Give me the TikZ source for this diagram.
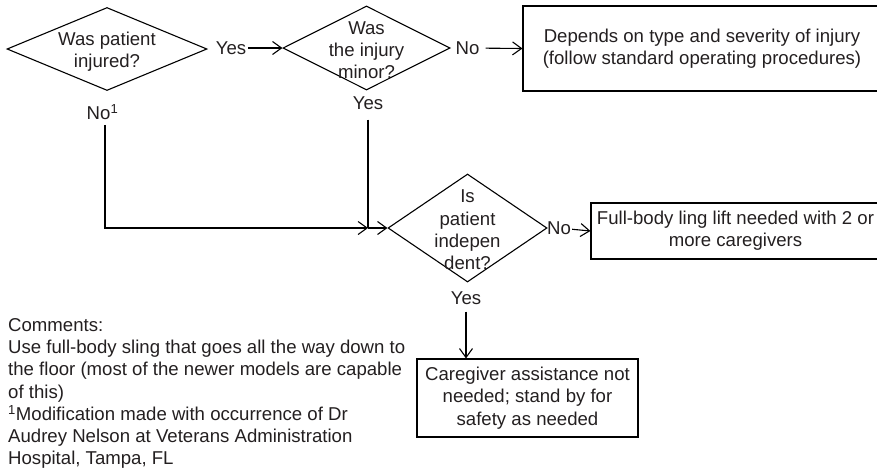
\documentclass[tikz,border=0pt]{standalone}
\usepackage{fontspec}
\setmainfont{Liberation Sans}
\usetikzlibrary{shapes.geometric,arrows.meta}
\definecolor{ink}{HTML}{231F20}
\begin{document}
\begin{tikzpicture}[x=1pt,y=-1pt,
  every node/.style={font=\fontsize{18.6}{22.3}\selectfont, text=ink},
  decision/.style={diamond, draw, line width=1.1pt, inner sep=0pt},
  outcome/.style={draw, line width=1.1pt, align=center, inner sep=0pt},
  answer/.style={inner sep=1pt},
  flow/.style={line width=1.1pt, -{Straight Barb[length=9pt,width=13pt]}},
  link/.style={line width=1.1pt}]
\useasboundingbox (0,0) rectangle (877,469);
\clip (0,0) rectangle (877,469);

% decisions
\node[decision, minimum width=200pt, minimum height=83pt,
  label={[align=center, yshift=-3pt]center:Was patient\\injured?}] (d1) at (107,49) {};
\node[decision, minimum width=167pt, minimum height=84pt,
  label={[align=center, yshift=-2pt]center:Was\\the injury\\minor?}] (d2) at (366.5,48) {};
\node[decision, minimum width=159pt, minimum height=108pt,
  label={[align=center, yshift=-2pt]center:Is\\patient\\indepen\\dent?}] (d3) at (467.5,228) {};

% outcomes
\node[outcome, minimum width=358pt, minimum height=85pt] (b1) at (702,48.5)
  {Depends on type and severity of injury\\(follow standard operating procedures)};
\node[outcome, minimum width=289pt, minimum height=56pt] (b2) at (735.5,231)
  {Full-body ling lift needed with 2 or\\more caregivers};
\node[outcome, minimum width=221pt, minimum height=78pt] (b3) at (527.5,398)
  {Caregiver assistance not\\needed; stand by for\\safety as needed};

% branch labels
\node[answer, inner xsep=2pt] (y1) at (231,48) {Yes};
\node[answer, inner xsep=6pt] (n2) at (467.5,48) {No};
\node[answer, inner ysep=5pt] (n1) at (102.5,112) {No\textsuperscript{1}};
\node[answer, inner ysep=10pt] (y2) at (368,103) {Yes};
\node[answer] (n3) at (559,228) {No};
\node[answer, inner ysep=7pt] (y3) at (466,298) {Yes};
\coordinate (j) at (368,228);

% connectors
\draw[flow] (y1) -- (d2.west);
\draw[flow] (n2) -- (b1.west);
\draw[flow] ([xshift=2.5pt]n1.south) |- (j);
\draw[link] (y2) -- (j);
\draw[flow] (j) -- (d3.west);
\draw[flow] (n3) -- (b2.west);
\draw[flow] (y3) -- (y3 |- b3.north);

% notes
\node[anchor=north west, align=left, inner sep=0pt] (cm) at (8,318)
  {Comments:\\
   Use full-body sling that goes all the way down to\\
   the floor (most of the newer models are capable\\
   of this)\\
   \textsuperscript{1}Modification made with occurrence of Dr\\
   Audrey Nelson at Veterans Administration\\
   Hospital, Tampa, FL};
\end{tikzpicture}
\end{document}
